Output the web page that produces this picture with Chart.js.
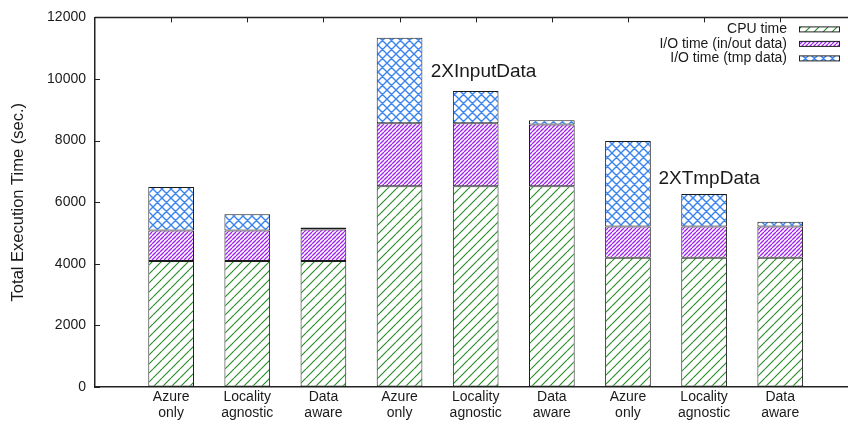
<!DOCTYPE html>
<html>
<head>
<meta charset="utf-8">
<script src="https://cdn.jsdelivr.net/npm/chart.js@4.4.0/dist/chart.umd.min.js"></script>
<style>
  html, body { margin: 0; padding: 0; background: #fff; overflow: hidden; }
  #wrap { width: 848px; height: 424px; position: relative; }
</style>
</head>
<body>
<div id="wrap"><canvas id="chart"></canvas></div>
<script>
// data
const categories = [
  ['Azure', 'only'], ['Locality', 'agnostic'], ['Data', 'aware'],
  ['Azure', 'only'], ['Locality', 'agnostic'], ['Data', 'aware'],
  ['Azure', 'only'], ['Locality', 'agnostic'], ['Data', 'aware']
];
const cpuTime = [4090, 4090, 4090, 6520, 6520, 6520, 4200, 4200, 4200];
const ioInOut = [990, 990, 1020, 2045, 2045, 2000, 1015, 1015, 1015];
const ioTmp = [1410, 530, 65, 2775, 1045, 140, 2775, 1055, 150];
const seriesNames = ['CPU time', 'I/O time (in/out data)', 'I/O time (tmp data)'];
const yTicks = [0, 2000, 4000, 6000, 8000, 10000, 12000];
const groupNotes = ['2XInputData', '2XTmpData'];
const notePos = [[4.41, 10050], [7.40, 6590]];

const FONT = '"Liberation Sans", Arial, sans-serif';
const INK = '#1a1a1a';

// hatch fills like gnuplot's patterns
function hatch(color, size, kind, lw) {
  const c = document.createElement('canvas');
  c.width = c.height = size;
  const g = c.getContext('2d');
  g.fillStyle = '#fff';
  g.fillRect(0, 0, size, size);
  g.strokeStyle = color;
  g.lineWidth = lw;
  g.beginPath();
  for (const k of [-size, 0, size]) {
    g.moveTo(k, size); g.lineTo(k + size, 0);
    if (kind === 'cross') { g.moveTo(k, 0); g.lineTo(k + size, size); }
  }
  g.stroke();
  return g.createPattern(c, 'repeat');
}

const ctx = document.getElementById('chart').getContext('2d');
const fills = [
  hatch('#228b22', 9, 'slash', 1.1),
  hatch('#a020f0', 4, 'slash', 1.3),
  hatch('#3a84f0', 9, 'cross', 1.4)
];
const seriesValues = [cpuTime, ioInOut, ioTmp];

const frame = {
  id: 'frame',
  afterDatasetsDraw(chart) {
    const { ctx, chartArea: a, scales: { x, y } } = chart;
    ctx.save();
    ctx.strokeStyle = '#222';
    ctx.lineWidth = 1.5;
    ctx.beginPath();
    ctx.moveTo(a.left, a.top); ctx.lineTo(a.right, a.top);
    ctx.stroke();
    ctx.lineWidth = 1;
    ctx.beginPath();
    categories.forEach((c, i) => {
      const px = Math.round(x.getPixelForValue(i + 1)) + 0.5;
      ctx.moveTo(px, a.top); ctx.lineTo(px, a.top + 5);
    });
    yTicks.forEach(v => {
      const py = Math.round(y.getPixelForValue(v)) + 0.5;
      ctx.moveTo(a.left, py); ctx.lineTo(a.left + 5, py);
    });
    ctx.stroke();

    // group notes
    ctx.fillStyle = INK;
    ctx.font = '19px ' + FONT;
    ctx.textBaseline = 'alphabetic';
    ctx.textAlign = 'left';
    groupNotes.forEach((t, i) => {
      ctx.fillText(t, x.getPixelForValue(notePos[i][0]), y.getPixelForValue(notePos[i][1]));
    });

    // key, text right-aligned with the sample box on its right
    ctx.font = '14px ' + FONT;
    ctx.textAlign = 'right';
    ctx.textBaseline = 'middle';
    chart.data.datasets.forEach((ds, i) => {
      const cy = a.top + 12 + i * 14.5;
      const boxL = chart.width - 49;
      ctx.fillStyle = INK;
      ctx.fillText(ds.label, boxL - 12, cy);
      ctx.fillStyle = ds.backgroundColor;
      ctx.fillRect(boxL, cy - 2.5, 40, 5);
      ctx.strokeStyle = '#222';
      ctx.strokeRect(boxL + 0.5, cy - 2.5, 40, 5);
    });
    ctx.restore();
  }
};

new Chart(ctx, {
  type: 'bar',
  data: {
    datasets: seriesNames.map((name, s) => ({
      label: name,
      data: seriesValues[s].map((v, i) => ({ x: i + 1, y: v })),
      backgroundColor: fills[s],
      borderColor: '#1a1a1a',
      borderWidth: 1,
      borderSkipped: false,
      categoryPercentage: 1,
      barPercentage: 0.6
    }))
  },
  options: {
    responsive: true,
    maintainAspectRatio: false,
    animation: false,
    layout: { padding: { top: 12, right: 0, left: 0, bottom: 0 } },
    plugins: { legend: { display: false }, tooltip: { enabled: false } },
    scales: {
      x: {
        type: 'linear',
        offset: false,
        stacked: true,
        min: 0,
        max: 9.89,
        afterBuildTicks: s => { s.ticks = categories.map((c, i) => ({ value: i + 1 })); },
        afterFit: s => { s.height = 37; },
        grid: { display: false, drawTicks: false },
        border: { display: true, color: '#222', width: 1.5 },
        ticks: {
          autoSkip: false,
          maxRotation: 0,
          padding: 3,
          color: INK,
          font: { family: FONT, size: 14, lineHeight: 1.08 },
          callback: v => categories[v - 1] || ''
        }
      },
      y: {
        stacked: true,
        min: 0,
        max: 12000,
        afterBuildTicks: s => { s.ticks = yTicks.map(v => ({ value: v })); },
        afterFit: s => { s.width = 95; },
        grid: { drawOnChartArea: false, drawTicks: false },
        border: { display: true, color: '#222', width: 1.5 },
        ticks: {
          padding: 9,
          color: INK,
          font: { family: FONT, size: 14 },
          callback: v => String(v)
        },
        title: {
          display: true,
          text: 'Total Execution Time (sec.)',
          color: INK,
          font: { family: FONT, size: 16.5 },
          padding: { top: 9, bottom: 0 }
        }
      }
    }
  },
  plugins: [frame]
});
</script>
</body>
</html>
